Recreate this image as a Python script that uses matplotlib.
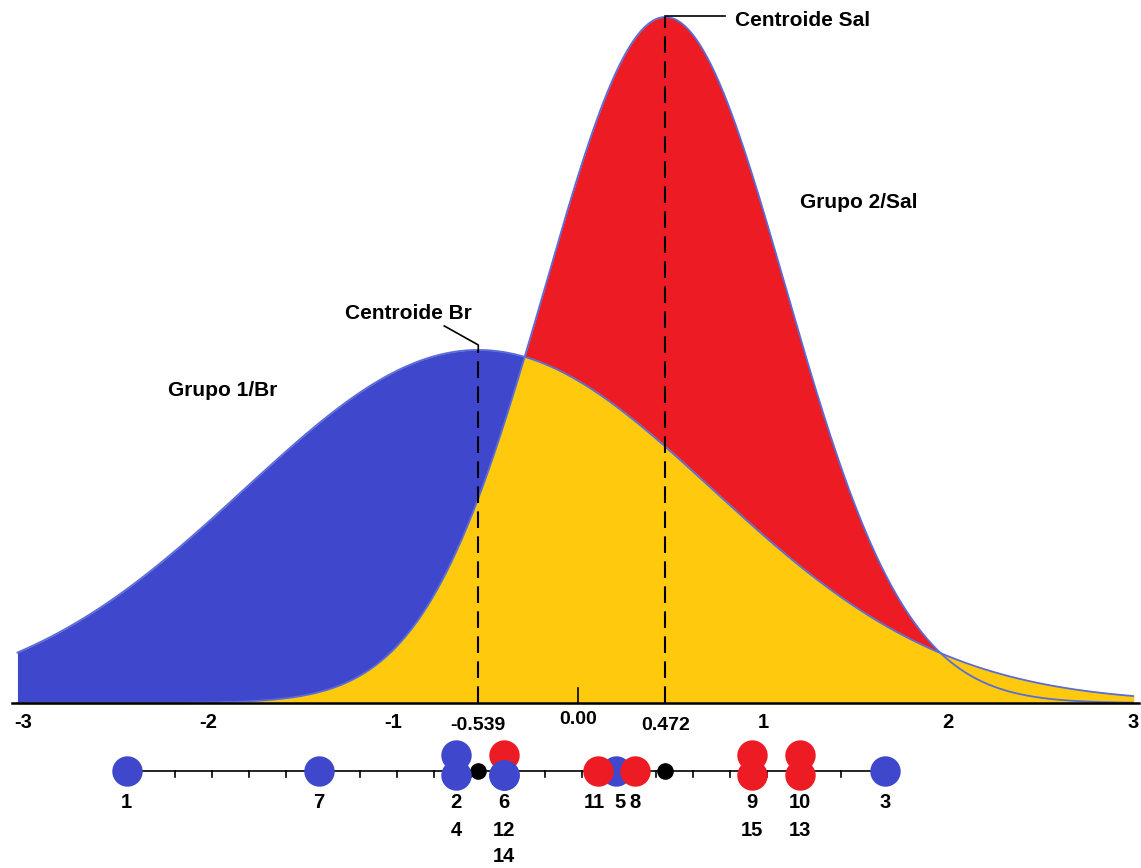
import numpy as np
import matplotlib
matplotlib.use("Agg")
import matplotlib.pyplot as plt

plt.rcParams['font.family'] = ['Liberation Sans', 'DejaVu Sans']
plt.rcParams['font.weight'] = 'bold'

# centroides y dispersion de cada grupo
centroid_br = -0.539
centroid_sal = 0.472
sd_br = 1.263
sd_sal = 0.65

# puntuaciones discriminantes de cada observacion
obs_ids = [1, 7, 2, 4, 5, 11, 8, 12, 6, 14, 9, 15, 10, 13, 3]
obs_score = [-2.44, -1.40, -0.66, -0.66, 0.205, 0.108, 0.308, -0.40, -0.40, -0.40,
             0.94, 0.94, 1.20, 1.20, 1.66]
obs_group = [1, 1, 1, 1, 1, 2, 2, 2, 1, 1, 2, 2, 2, 2, 1]
obs_stack = [0, 0, 1, -1, 0, 0, 0, 1, -1, -1, 1, -1, 1, -1, 0]

axis_ticks = [-3, -2, -1, 1, 2, 3]

BLUE = '#3f48cc'
RED = '#ed1c24'
YELLOW = '#ffc90e'
EDGE = '#5a6cd8'


def pdf(x, mu, sd):
    return np.exp(-0.5 * ((x - mu) / sd) ** 2) / (sd * np.sqrt(2 * np.pi))


pk_br = pdf(centroid_br, centroid_br, sd_br)
pk_sal = pdf(centroid_sal, centroid_sal, sd_sal)
PX = 686 / pk_sal  # pixeles por unidad de densidad

fig = plt.figure(figsize=(11.41, 8.68), dpi=100)
ax = fig.add_axes([0, 0, 1, 1])
ax.set_xlim(-578 / 185, (1141 - 578) / 185)
ax.set_ylim(-(868 - 703) / PX, 703 / PX)
ax.axis('off')

x = np.linspace(-3.03, 3.0, 1500)
yb = pdf(x, centroid_br, sd_br)
ys = pdf(x, centroid_sal, sd_sal)
x_cross = x[(x > 1) & (ys < yb)][0]

ax.fill_between(x, 0, yb, where=x <= x_cross, color=BLUE, lw=0, zorder=1)
ax.fill_between(x, 0, ys, color=RED, lw=0, zorder=1)
top = np.where(x > x_cross, yb, np.minimum(yb, ys))
ax.fill_between(x, 0, top, color=YELLOW, lw=1.2, edgecolor=YELLOW, zorder=2)
ax.plot(x, yb, color=EDGE, lw=1.3, zorder=3)
ax.plot(x, ys, color=EDGE, lw=1.3, zorder=3)

# eje principal
ax.plot([-3.06, 3.03], [0, 0], color='black', lw=1.8, zorder=4)
ax.plot([0, 0], [0, 15 / PX], color='black', lw=1.2, zorder=4)
for t in axis_ticks:
    ax.text(t, -20 / PX, str(t), ha='center', va='center', fontsize=14.5)
ax.text(0, -17 / PX, '0.00', ha='center', va='center', fontsize=14)
ax.text(centroid_br, -22 / PX, '%.3f' % centroid_br, ha='center', va='center', fontsize=14)
ax.text(centroid_sal, -23 / PX, '%.3f' % centroid_sal, ha='center', va='center', fontsize=14)

# centroides
ax.plot([centroid_br, centroid_br], [0, pk_br], color='black', lw=1.5,
        ls=(0, (8, 4)), zorder=5)
ax.plot([centroid_sal, centroid_sal], [0, pk_sal], color='black', lw=1.5,
        ls=(0, (8, 4)), zorder=5)
ax.plot([centroid_br - 34 / 185, centroid_br, centroid_br],
        [pk_br + 24 / PX, pk_br + 5 / PX, pk_br], color='black', lw=1.2, zorder=5)
ax.plot([centroid_sal, centroid_sal + 60 / 185], [pk_sal + 1 / PX] * 2,
        color='black', lw=1.2, zorder=5)
ax.text(centroid_br - 70 / 185, pk_br + 36 / PX, 'Centroide Br', ha='center',
        va='center', fontsize=15)
ax.text(centroid_sal + 137 / 185, pk_sal - 3 / PX, 'Centroide Sal', ha='center',
        va='center', fontsize=15)
ax.text(-1.92, 312 / PX, 'Grupo 1/Br', ha='center', va='center', fontsize=15)
ax.text(1.52, 501 / PX, 'Grupo 2/Sal', ha='center', va='center', fontsize=15)

# franja de observaciones
strip_y = -68 / PX
ax.plot([min(obs_score), max(obs_score)], [strip_y] * 2, color='black', lw=1.2, zorder=5)
for t in np.arange(-2.38, 1.7, 0.2):
    ax.plot([t, t], [strip_y, strip_y - 6 / PX], color='black', lw=1.2, zorder=5)
ax.scatter([centroid_br, centroid_sal], [strip_y] * 2, s=120, color='black', zorder=6)

for i, (oid, sc, g, st) in enumerate(zip(obs_ids, obs_score, obs_group, obs_stack)):
    off = {0: 0, 1: 16, -1: -4}[st]
    ax.scatter([sc], [strip_y + off / PX], s=480, color=BLUE if g == 1 else RED,
               lw=0, zorder=10 + i)

# etiquetas debajo de los puntos
label_shift = {11: -4, 5: 4}
labels = {}
for oid, sc in zip(obs_ids, obs_score):
    labels.setdefault(sc, []).append(oid)
for sc, ids in labels.items():
    ids = sorted(ids)
    for k, oid in enumerate(ids):
        ax.text(sc + label_shift.get(oid, 0) / 185, -(100 + 27 * k) / PX, str(oid),
                ha='center', va='center', fontsize=14.5)

fig.savefig('out.png', dpi=100)
